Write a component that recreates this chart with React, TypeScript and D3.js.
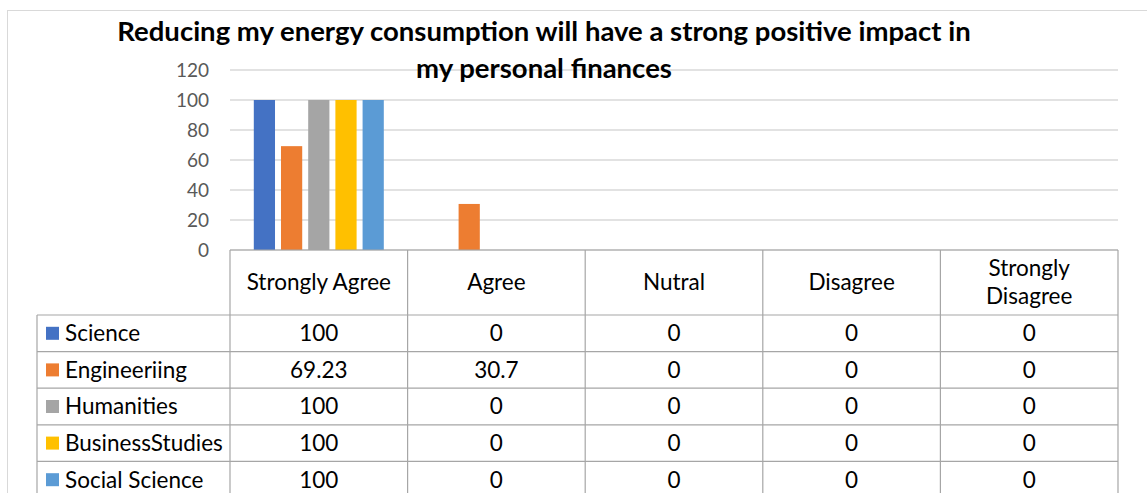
import React from "react";
import * as d3 from "d3";

const title1 = "Reducing my energy consumption will have a strong positive impact in";
const title2 = "my personal finances";
const categories = ["Strongly Agree", "Agree", "Nutral", "Disagree", "Strongly Disagree"];
const seriesNames = ["Science", "Engineeriing", "Humanities", "BusinessStudies", "Social Science"];
const science = [100, 0, 0, 0, 0];
const engineering = [69.23, 30.7, 0, 0, 0];
const humanities = [100, 0, 0, 0, 0];
const business = [100, 0, 0, 0, 0];
const social = [100, 0, 0, 0, 0];
const seriesColors = ["#4472C4", "#ED7D31", "#A5A5A5", "#FFC000", "#5B9BD5"];
const yTicks = [0, 20, 40, 60, 80, 100, 120];

const allValues = [science, engineering, humanities, business, social];

const FONT = "Lato, 'Open Sans', sans-serif";

export default function App() {
  const W = 1147, H = 493;
  const plotLeft = 230, plotRight = 1118, plotTop = 70, plotBottom = 250;
  const headerBottom = 315;
  const rowH = 36.6;
  const legendLeft = 37;

  const x0 = d3.scaleBand<string>().domain(categories).range([plotLeft, plotRight]);
  const groupW = 130;
  const off = (x0.bandwidth() - groupW) / 2;
  const x1 = d3.scaleBand<string>().domain(seriesNames).range([off, off + groupW]).paddingInner(0.22);
  const y = d3.scaleLinear().domain([0, 120]).range([plotBottom, plotTop]);

  const tableBottom = headerBottom + rowH * seriesNames.length;
  const lineColor = "#A6A6A6";
  const fs = 22.5;

  const fmt = (v: number) => String(v);

  return (
    <svg width={W} height={H} style={{ position: "absolute", left: 0, top: 0, background: "#fff" }} fontFamily={FONT}>
      <rect x={0} y={0} width={W} height={H} fill="#fff" />
      <rect x={7.5} y={10.5} width={1160} height={520} fill="none" stroke="#D9D9D9" strokeWidth={1} />
      {/* gridlines */}
      {yTicks.map((t) => (
        <line key={t} x1={plotLeft} x2={plotRight} y1={y(t)} y2={y(t)} stroke="#D9D9D9" strokeWidth={1.5} />
      ))}
      {yTicks.map((t) => (
        <text key={"l" + t} x={209} y={y(t)} dy="0.35em" textAnchor="end" fontSize={19} fill="#595959">
          {t}
        </text>
      ))}
      {/* bars */}
      {categories.map((c, ci) => (
        <g key={c} transform={`translate(${x0(c)},0)`}>
          {seriesNames.map((s, si) => {
            const v = allValues[si][ci];
            return (
              <rect
                key={s}
                x={x1(s)}
                width={x1.bandwidth()}
                y={y(v)}
                height={y(0) - y(v)}
                fill={seriesColors[si]}
              />
            );
          })}
        </g>
      ))}
      {/* title */}
      <text x={544} y={41} textAnchor="middle" fontSize={27.5} fontWeight="bold" fill="#000">
        {title1}
      </text>
      <text x={544} y={78} textAnchor="middle" fontSize={27.5} fontWeight="bold" fill="#000">
        {title2}
      </text>
      {/* table lines */}
      <g stroke={lineColor} strokeWidth={1.2}>
        <line x1={plotLeft} x2={plotRight} y1={plotBottom} y2={plotBottom} />
        {categories.map((c) => (
          <line key={c} x1={x0(c)} x2={x0(c)} y1={plotBottom} y2={tableBottom + 20} />
        ))}
        <line x1={plotRight} x2={plotRight} y1={plotBottom} y2={tableBottom + 20} />
        <line x1={legendLeft} x2={legendLeft} y1={headerBottom} y2={tableBottom + 20} />
        {seriesNames.map((s, i) => (
          <line key={s} x1={legendLeft} x2={plotRight} y1={headerBottom + i * rowH} y2={headerBottom + i * rowH} />
        ))}
        <line x1={legendLeft} x2={plotRight} y1={tableBottom} y2={tableBottom} />
      </g>
      {/* header */}
      {categories.map((c) => {
        const cx = (x0(c) as number) + x0.bandwidth() / 2;
        const cy = (plotBottom + headerBottom) / 2;
        const words = c === "Strongly Disagree" ? ["Strongly", "Disagree"] : [c];
        return (
          <text key={c} x={cx} textAnchor="middle" fontSize={fs} fill="#000">
            {words.map((w, i) => (
              <tspan key={w} x={cx} y={cy + (i - (words.length - 1) / 2) * 28} dy="0.35em">
                {w}
              </tspan>
            ))}
          </text>
        );
      })}
      {/* rows */}
      {seriesNames.map((s, si) => {
        const cy = headerBottom + si * rowH + rowH / 2;
        return (
          <g key={s}>
            <rect x={46} y={cy - 6.5} width={13} height={13} fill={seriesColors[si]} />
            <text x={65} y={cy} dy="0.35em" fontSize={fs} fill="#000">
              {s}
            </text>
            {categories.map((c, ci) => (
              <text
                key={c}
                x={(x0(c) as number) + x0.bandwidth() / 2}
                y={cy}
                dy="0.35em"
                textAnchor="middle"
                fontSize={fs}
                fill="#000"
              >
                {fmt(allValues[si][ci])}
              </text>
            ))}
          </g>
        );
      })}
    </svg>
  );
}
